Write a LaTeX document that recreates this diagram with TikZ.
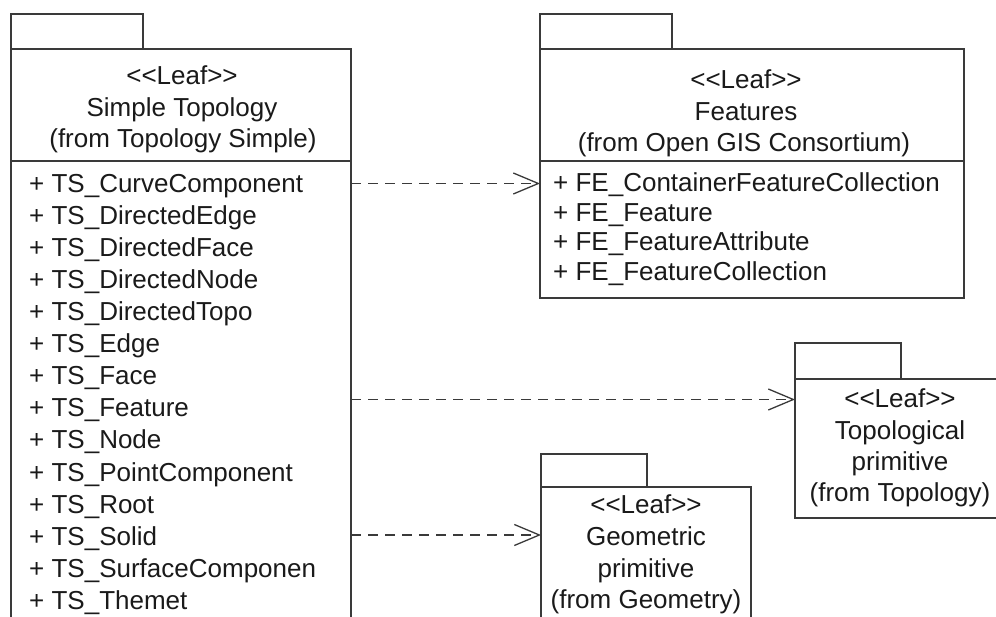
\documentclass[tikz,border=0pt]{standalone}
\usepackage{fontspec}
\setmainfont{Liberation Sans}
\usetikzlibrary{arrows.meta}
\definecolor{ink}{HTML}{1A1A1A}
\definecolor{edge}{HTML}{3A3A3A}
\tikzset{
  pkg/.style={draw=edge, line width=1.3pt, fill=white, inner sep=0pt, outer sep=0pt, anchor=north west},
  txt/.style={text=ink, font=\fontsize{26}{31}\selectfont, inner sep=0pt, anchor=base},
  item/.style={txt, anchor=base west},
  sepline/.style={draw=edge, line width=1.3pt},
  dep/.style={draw=edge, line width=1.3pt, dash pattern=on 10pt off 7pt, -{Straight Barb[length=25pt,width=21pt,line width=1.3pt]}}
}
\begin{document}
\begin{tikzpicture}[x=1pt,y=-1pt]
\useasboundingbox (0,0) rectangle (996,617);
\clip (0,0) rectangle (996,617);
% Simple Topology package
\node[pkg, minimum width=132, minimum height=35] (stab) at (11,14) {};
\node[pkg, minimum width=340, minimum height=620] (simple) at (11,49) {};
\draw[sepline] (simple.west |- 0,161) -- (simple.east |- 0,161);
\node[txt] (sh1) at (182,85) {<{}<Leaf>{}>};
\node[txt] (sh2) at (182,117) {Simple Topology};
\node[txt] (sh3) at (183,148) {(from Topology Simple)};
\foreach \t [count=\i from 0] in {CurveComponent,DirectedEdge,DirectedFace,DirectedNode,DirectedTopo,Edge,Face,Feature,Node,PointComponent,Root,Solid,SurfaceComponen,Themet}
  \node[item] (ts\i) at (29,193+32*\i) {+ TS\_\t};
% Features package
\node[pkg, minimum width=132, minimum height=35] (ftab) at (540,14) {};
\node[pkg, minimum width=424, minimum height=249] (features) at (540,49) {};
\draw[sepline] (features.west |- 0,161) -- (features.east |- 0,161);
\node[txt] (fh1) at (746,89) {<{}<Leaf>{}>};
\node[txt] (fh2) at (746,121) {Features};
\node[txt] (fh3) at (744,152) {(from Open GIS Consortium)};
\node[item] (fe0) at (553,192) {+ FE\_ContainerFeatureCollection};
\node[item] (fe1) at (553,221.5) {+ FE\_Feature};
\node[item] (fe2) at (553,251) {+ FE\_FeatureAttribute};
\node[item] (fe3) at (553,280.5) {+ FE\_FeatureCollection};
% Topological primitive package
\node[pkg, minimum width=106, minimum height=36] (ttab) at (795,343) {};
\node[pkg, minimum width=210, minimum height=139] (topo) at (795,379) {};
\node[txt] (th1) at (900,408) {<{}<Leaf>{}>};
\node[txt] (th2) at (900,439) {Topological};
\node[txt] (th3) at (900,470) {primitive};
\node[txt] (th4) at (900,501) {(from Topology)};
% Geometric primitive package
\node[pkg, minimum width=106, minimum height=33] (gtab) at (541,454) {};
\node[pkg, minimum width=210, minimum height=150] (geom) at (541,487) {};
\node[txt] (gh1) at (646,513) {<{}<Leaf>{}>};
\node[txt] (gh2) at (646,545) {Geometric};
\node[txt] (gh3) at (646,577) {primitive};
\node[txt] (gh4) at (646,608) {(from Geometry)};
% dependencies
\coordinate (a1) at (0,183.5);
\coordinate (a2) at (0,399.5);
\coordinate (a3) at (0,535);
\draw[dep] (simple.east |- a1) -- (features.west |- a1);
\draw[dep] (simple.east |- a2) -- (topo.west |- a2);
\draw[dep] (simple.east |- a3) -- (geom.west |- a3);
\end{tikzpicture}
\end{document}
